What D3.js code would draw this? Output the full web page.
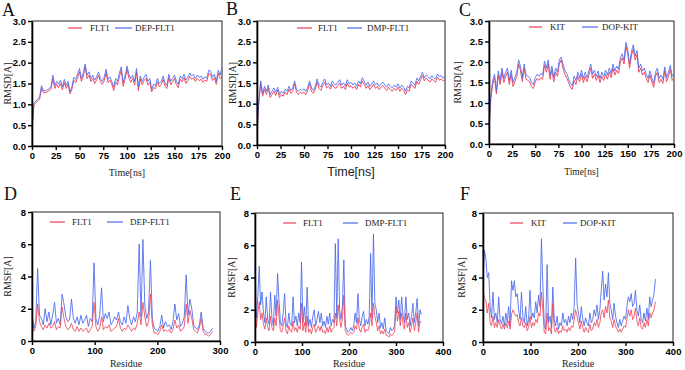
<!DOCTYPE html>
<html><head><meta charset="utf-8">
<script src="https://cdn.jsdelivr.net/npm/d3@7"></script>
<style>body{margin:0;background:#fff}svg{display:block}</style>
</head><body>
<svg id="chart" width="685" height="370"></svg>
<script>
// ---------- DATA ----------
const rmsdTimeTicks = [0,25,50,75,100,125,150,175,200];
const rmsdTicks = [0,0.5,1.0,1.5,2.0,2.5,3.0];
const rmsfTicks = [0,2,4,6,8];
const residueTicksD = [0,100,200,300];
const residueTicksEF = [0,100,200,300,400];
const rmsdStepNs = 2;     // sampling interval of the RMSD series (ns)
const rmsfStepRes = 3;    // sampling interval of the RMSF series (residues)

// A: RMSD FLT1 vs DEP-FLT1
const rmsdA_FLT1 = [0.35,0.98,1.04,1.08,1.12,1.38,1.28,1.28,1.30,1.33,
 1.36,1.62,1.38,1.48,1.40,1.50,1.35,1.52,1.38,1.48,
 1.25,1.36,1.58,1.52,1.64,1.78,1.55,1.68,1.90,1.62,
 1.70,1.55,1.62,1.50,1.58,1.70,1.55,1.48,1.57,1.76,
 1.52,1.58,1.48,1.33,1.54,1.47,1.66,1.82,1.43,1.60,
 1.84,1.63,1.53,1.62,1.46,1.78,1.33,1.60,1.47,1.57,
 1.63,1.46,1.53,1.30,1.40,1.38,1.54,1.42,1.47,1.60,
 1.44,1.38,1.64,1.47,1.54,1.62,1.47,1.40,1.60,1.54,
 1.64,1.50,1.57,1.67,1.60,1.64,1.55,1.62,1.57,1.60,
 1.53,1.58,1.55,1.74,1.72,1.57,1.64,1.48,1.74,1.62,
 1.66];
const rmsdA_DEP = [0.40,1.02,1.08,1.12,1.18,1.45,1.33,1.32,1.35,1.38,
 1.42,1.70,1.45,1.55,1.48,1.58,1.42,1.60,1.45,1.55,
 1.30,1.42,1.65,1.60,1.72,1.86,1.62,1.75,1.97,1.70,
 1.78,1.62,1.70,1.58,1.66,1.78,1.62,1.55,1.65,1.84,
 1.60,1.66,1.55,1.42,1.62,1.55,1.75,1.90,1.52,1.68,
 1.92,1.72,1.62,1.70,1.55,1.86,1.42,1.68,1.55,1.65,
 1.72,1.55,1.62,1.36,1.48,1.45,1.62,1.50,1.55,1.68,
 1.52,1.45,1.72,1.55,1.62,1.70,1.55,1.48,1.68,1.62,
 1.72,1.58,1.65,1.75,1.68,1.72,1.62,1.70,1.65,1.68,
 1.60,1.66,1.62,1.82,1.80,1.65,1.72,1.55,1.82,1.70,
 1.88];

// B: RMSD FLT1 vs DMP-FLT1
const rmsdB_FLT1 = [0.25,1.05,1.48,1.18,1.35,1.22,1.38,1.15,1.22,1.30,
 1.20,1.33,1.15,1.22,1.18,1.28,1.22,1.35,1.25,1.30,
 1.48,1.28,1.22,1.28,1.25,1.28,1.22,1.32,1.48,1.30,
 1.25,1.35,1.52,1.37,1.32,1.44,1.52,1.38,1.42,1.35,
 1.47,1.40,1.37,1.44,1.50,1.37,1.42,1.34,1.50,1.40,
 1.44,1.37,1.42,1.34,1.47,1.40,1.55,1.47,1.37,1.44,
 1.34,1.40,1.47,1.37,1.42,1.34,1.40,1.44,1.37,1.32,
 1.40,1.34,1.30,1.37,1.32,1.40,1.30,1.37,1.32,1.22,
 1.34,1.30,1.47,1.42,1.37,1.54,1.47,1.57,1.68,1.55,
 1.62,1.57,1.52,1.60,1.55,1.52,1.64,1.57,1.60,1.55,
 1.58];
const rmsdB_DMP = [0.30,1.10,1.55,1.25,1.42,1.30,1.45,1.22,1.30,1.38,
 1.28,1.40,1.22,1.30,1.25,1.35,1.30,1.42,1.32,1.38,
 1.55,1.35,1.30,1.35,1.32,1.36,1.30,1.40,1.55,1.38,
 1.32,1.42,1.60,1.45,1.40,1.52,1.60,1.45,1.50,1.42,
 1.55,1.48,1.45,1.52,1.58,1.45,1.50,1.42,1.58,1.48,
 1.52,1.45,1.50,1.42,1.55,1.48,1.63,1.55,1.45,1.52,
 1.42,1.48,1.55,1.45,1.50,1.42,1.48,1.52,1.45,1.40,
 1.48,1.42,1.38,1.45,1.40,1.48,1.38,1.45,1.40,1.30,
 1.42,1.38,1.55,1.50,1.45,1.62,1.55,1.65,1.76,1.62,
 1.70,1.65,1.60,1.68,1.62,1.60,1.72,1.65,1.68,1.62,
 1.66];

// C: RMSD KIT vs DOP-KIT
const rmsdC_KIT = [0.35,1.10,1.45,1.62,1.22,1.68,1.45,1.75,1.50,1.65,
 1.75,1.45,1.70,1.40,1.52,1.65,1.95,1.80,1.52,1.85,
 1.58,1.55,1.52,1.40,1.35,1.52,1.60,1.55,1.62,1.58,
 1.92,1.75,1.95,1.58,1.80,1.52,1.75,1.65,1.95,2.05,
 1.85,1.70,1.62,1.50,1.38,1.33,1.55,1.45,1.65,1.52,
 1.70,1.50,1.65,1.52,1.68,1.85,1.60,1.70,1.55,1.68,
 1.50,1.65,1.55,1.70,1.58,1.75,1.62,1.85,1.68,1.80,
 1.72,2.00,2.10,1.95,2.38,2.20,1.85,2.15,2.32,2.05,
 2.18,1.75,1.85,1.68,1.75,1.60,1.50,1.68,1.52,1.38,
 1.65,1.75,1.50,1.58,1.48,1.78,1.52,1.65,1.82,1.55,
 1.62];
const rmsdC_DOP = [0.40,1.20,1.55,1.70,1.30,1.78,1.55,1.85,1.60,1.75,
 1.85,1.55,1.80,1.50,1.62,1.75,2.05,1.90,1.62,1.95,
 1.68,1.65,1.62,1.50,1.45,1.62,1.70,1.65,1.72,1.68,
 2.02,1.85,2.05,1.68,1.90,1.62,1.85,1.75,2.05,2.12,
 1.95,1.80,1.72,1.60,1.48,1.42,1.65,1.55,1.75,1.62,
 1.80,1.60,1.75,1.62,1.78,1.95,1.70,1.80,1.65,1.78,
 1.60,1.75,1.65,1.80,1.68,1.85,1.72,1.95,1.78,1.90,
 1.82,2.10,2.20,2.05,2.48,2.30,1.95,2.25,2.42,2.15,
 2.28,1.85,1.95,1.78,1.85,1.70,1.60,1.78,1.62,1.48,
 1.75,1.85,1.60,1.68,1.58,1.88,1.62,1.75,1.92,1.65,
 1.72];

// D: RMSF FLT1 vs DEP-FLT1
const rmsfD_FLT1 = [1.40,0.60,0.90,2.30,1.20,0.90,0.70,1.00,0.80,1.10,
 0.80,0.90,1.20,0.70,0.90,0.80,2.10,1.40,0.90,0.70,
 0.80,1.10,0.70,0.60,0.90,0.60,0.80,0.60,0.70,0.80,
 0.50,0.70,0.90,2.40,0.90,0.60,0.80,1.50,0.70,0.90,
 0.80,1.00,0.60,0.70,0.80,0.90,1.40,0.80,0.60,0.80,
 0.70,1.00,0.80,0.60,0.80,0.70,1.10,1.80,1.00,2.40,
 1.50,0.90,1.20,2.90,1.00,0.50,0.50,0.40,0.60,1.00,
 0.60,0.70,0.60,0.70,0.50,0.70,1.30,0.80,1.00,0.60,
 0.70,0.90,2.30,1.10,1.90,1.40,0.70,0.60,0.50,0.80,
 1.40,0.60,0.40,0.40,0.30,0.40,0.60];
const rmsfD_DEP = [1.80,0.80,1.20,4.50,1.60,1.40,1.00,2.00,1.20,1.80,
 1.00,1.60,2.40,1.10,1.40,1.00,2.90,2.30,1.50,1.20,
 1.30,2.60,1.40,1.10,1.50,1.00,1.60,1.10,1.30,1.60,
 0.90,1.40,1.20,4.85,1.40,1.00,1.60,3.30,1.20,1.70,
 1.40,1.80,1.00,1.20,1.50,1.30,1.80,1.20,1.00,1.50,
 1.10,2.20,1.40,1.00,1.50,1.20,1.80,6.00,1.50,6.30,
 2.20,1.40,1.80,5.00,1.40,0.80,0.70,0.60,0.90,1.60,
 0.80,1.20,0.90,1.00,0.70,1.20,2.30,1.30,1.70,0.90,
 1.10,1.50,4.10,1.60,2.60,2.00,1.00,0.80,0.70,1.00,
 1.80,0.80,0.60,0.50,0.50,0.60,0.80];

// E: RMSF FLT1 vs DMP-FLT1
const rmsfE_FLT1 = [2.90,0.90,1.80,2.50,1.40,1.80,1.10,0.80,1.50,0.90,
 0.70,1.60,0.90,0.70,1.50,1.00,2.60,1.60,0.70,0.60,
 1.00,1.50,0.70,0.50,1.00,0.70,0.60,1.30,0.70,0.90,
 0.60,1.00,0.80,2.40,0.70,1.20,0.60,1.60,0.60,0.80,
 0.50,0.90,1.10,0.60,0.80,1.00,0.70,1.00,0.60,0.70,
 0.50,0.90,0.60,1.00,0.60,0.80,0.90,1.80,1.00,2.30,
 1.40,0.90,1.50,2.90,0.70,0.50,0.40,0.50,0.60,0.50,
 0.60,1.00,0.80,1.50,0.80,0.60,0.90,1.10,0.60,0.80,
 0.70,1.00,1.80,1.00,2.40,1.60,1.20,0.70,1.00,0.50,
 0.70,0.50,0.80,0.40,0.40,0.30,0.50,0.40,0.50,0.60,
 2.20,1.30,1.90,1.00,1.80,1.10,0.80,1.80,0.90,1.20,
 0.60,1.00,1.50,0.70,1.20,1.80,0.60,1.30,1.20];
const rmsfE_DMP = [5.00,1.50,2.80,4.70,2.30,3.10,1.80,1.20,2.80,1.40,
 1.10,3.10,1.50,1.00,2.90,1.60,4.25,2.60,1.20,1.00,
 1.80,3.00,1.20,0.90,1.80,1.10,1.00,2.80,1.20,1.60,
 1.00,1.80,1.20,4.95,1.20,2.20,1.00,3.40,1.00,1.40,
 0.90,1.60,2.00,1.00,1.40,1.90,1.20,1.80,1.00,1.30,
 0.90,1.60,1.10,1.80,1.00,1.40,1.20,6.10,1.50,6.40,
 2.00,1.40,2.20,5.10,1.00,0.80,0.60,0.70,0.90,0.70,
 1.00,1.80,1.20,3.00,1.40,1.00,1.60,1.90,1.00,1.40,
 1.10,1.60,5.50,1.50,6.70,2.40,2.00,1.20,1.80,0.90,
 1.20,0.80,1.50,0.70,0.60,0.50,0.90,0.70,0.80,1.00,
 2.80,1.80,2.60,1.40,2.80,1.60,1.20,2.80,1.40,1.80,
 1.00,1.60,2.40,1.20,1.80,2.70,1.00,2.00,1.70];

// F: RMSF KIT vs DOP-KIT
const rmsfF_KIT = [3.30,2.70,2.60,1.80,2.40,1.20,1.00,1.60,0.90,1.20,
 0.90,1.40,1.00,0.80,1.10,0.80,1.20,0.90,1.30,0.80,
 1.70,2.00,1.80,1.60,1.70,1.20,1.00,1.50,1.00,0.90,
 1.20,0.70,0.90,1.60,0.90,1.20,1.00,1.40,1.20,1.80,
 1.60,3.10,2.00,0.60,0.50,1.80,0.70,0.90,0.50,2.40,
 0.80,0.60,0.90,0.50,0.70,0.60,1.00,0.70,0.80,0.60,
 0.90,0.70,1.00,0.90,1.40,2.00,1.60,1.20,0.80,1.30,
 0.90,0.60,0.90,0.70,0.60,1.10,0.70,0.80,1.20,1.00,
 1.40,0.90,1.20,1.80,2.00,1.50,2.20,1.80,2.60,1.50,
 1.30,0.90,1.40,1.00,0.80,0.60,0.80,0.60,0.80,1.00,
 0.90,1.40,2.00,1.60,2.00,1.40,1.60,2.10,1.30,1.00,
 1.50,0.90,0.80,1.20,0.90,1.40,1.00,1.80,1.50,1.80,
 2.00,2.50];
const rmsfF_DOP = [3.80,5.70,5.20,4.00,4.30,2.20,1.50,3.10,1.40,1.80,
 1.20,2.80,1.40,1.10,1.60,1.00,1.80,1.20,2.20,1.00,
 3.80,3.20,3.80,2.80,3.00,2.00,1.40,3.10,1.50,1.20,
 2.20,1.00,1.40,3.20,1.40,1.80,1.50,2.50,1.80,2.90,
 2.20,6.40,3.50,1.00,0.80,4.80,1.20,1.60,0.90,3.40,
 1.40,1.00,1.60,0.80,1.20,1.00,1.80,1.20,1.40,1.00,
 1.60,1.20,1.80,1.40,2.20,5.20,2.40,1.80,1.20,2.20,
 1.40,1.00,1.50,1.20,1.00,1.80,1.20,1.40,2.00,1.60,
 2.30,1.40,2.00,3.20,4.40,2.60,3.60,2.80,4.30,2.40,
 2.00,1.40,2.40,1.60,1.20,0.90,1.40,1.00,1.30,1.60,
 1.40,2.20,2.80,2.50,3.00,2.20,2.40,3.20,2.00,1.60,
 2.30,1.40,1.20,1.80,1.30,2.10,1.40,2.80,2.20,2.60,
 3.00,3.90];

// ---------- DRAWING ----------
const svg = d3.select('#chart');
const RED = '#ec3e56', BLUE = '#4a69ec';
const SERIF = '"Liberation Serif","Times New Roman",serif';
const SANS = '"Liberation Sans",Arial,sans-serif';

const panels = [
 {tag:'A', l:32, r:222, t:21, b:146, xMax:200, xTicks:rmsdTimeTicks, yMax:3, yTicks:rmsdTicks, yFmt:d3.format('.1f'),
  step:rmsdStepNs, red:rmsdA_FLT1, blue:rmsdA_DEP, names:['FLT1','DEP-FLT1'], xTitle:'Time[ns]', yTitle:'RMSD[A]',
  tagX:2, tagY:16, xTitleY:176, xTitleFont:SERIF, xTitleSize:10, yTitleX:11, leg:{y:28, r0:68, r1:82, rt:90, b0:115, b1:132, bt:135}, blueOnTop:true},
 {tag:'B', l:257, r:445, t:21, b:145, xMax:200, xTicks:rmsdTimeTicks, yMax:3, yTicks:rmsdTicks, yFmt:d3.format('.1f'),
  step:rmsdStepNs, red:rmsdB_FLT1, blue:rmsdB_DMP, names:['FLT1','DMP-FLT1'], xTitle:'Time[ns]', yTitle:'RMSD[A]',
  tagX:226, tagY:15, xTitleY:176, xTitleFont:SANS, xTitleSize:12.5, yTitleX:236, leg:{y:28, r0:297, r1:312, rt:318, b0:347, b1:362, bt:367}, blueOnTop:true},
 {tag:'C', l:489, r:674, t:21, b:144, xMax:200, xTicks:rmsdTimeTicks, yMax:3, yTicks:rmsdTicks, yFmt:d3.format('.1f'),
  step:rmsdStepNs, red:rmsdC_KIT, blue:rmsdC_DOP, names:['KIT','DOP-KIT'], xTitle:'Time[ns]', yTitle:'RMSD[A]',
  tagX:459, tagY:16, xTitleY:175, xTitleFont:SERIF, xTitleSize:9.5, yTitleX:461, leg:{y:27, r0:529, r1:542, rt:550, b0:582, b1:598, bt:602}, blueOnTop:true},
 {tag:'D', l:32, r:220, t:212, b:341, xMax:300, xTicks:residueTicksD, yMax:8, yTicks:rmsfTicks, yFmt:d3.format('d'),
  step:rmsfStepRes, red:rmsfD_FLT1, blue:rmsfD_DEP, names:['FLT1','DEP-FLT1'], xTitle:'Residue', yTitle:'RMSF[A]',
  tagX:4, tagY:200, xTitleY:367, xTitleFont:SERIF, xTitleSize:10, yTitleX:11, leg:{y:222, r0:50, r1:65, rt:72, b0:107, b1:123, bt:130}, blueOnTop:false},
 {tag:'E', l:255, r:443, t:213, b:342, xMax:400, xTicks:residueTicksEF, yMax:8, yTicks:rmsfTicks, yFmt:d3.format('d'),
  step:rmsfStepRes, red:rmsfE_FLT1, blue:rmsfE_DMP, names:['FLT1','DMP-FLT1'], xTitle:'Residue', yTitle:'RMSF[A]',
  tagX:230, tagY:200, xTitleY:367, xTitleFont:SERIF, xTitleSize:10, yTitleX:235, leg:{y:223, r0:283, r1:296, rt:303, b0:343, b1:358, bt:365}, blueOnTop:false},
 {tag:'F', l:483, r:673, t:213, b:342, xMax:400, xTicks:residueTicksEF, yMax:8, yTicks:rmsfTicks, yFmt:d3.format('d'),
  step:rmsfStepRes, red:rmsfF_KIT, blue:rmsfF_DOP, names:['KIT','DOP-KIT'], xTitle:'Residue', yTitle:'RMSF[A]',
  tagX:460, tagY:200, xTitleY:367, xTitleFont:SERIF, xTitleSize:10, yTitleX:465, leg:{y:223, r0:510, r1:523, rt:531, b0:563, b1:577, bt:580}, blueOnTop:false}
];

panels.forEach(p => {
  const x = d3.scaleLinear().domain([0, p.xMax]).range([p.l, p.r]);
  const y = d3.scaleLinear().domain([0, p.yMax]).range([p.b, p.t]);
  const g = svg.append('g');

  // frame
  g.append('rect').attr('x', p.l).attr('y', p.t).attr('width', p.r - p.l).attr('height', p.b - p.t)
    .attr('fill', 'none').attr('stroke', '#222').attr('stroke-width', 1);

  const line = d3.line().x((d, i) => x(i * p.step)).y(d => y(d));
  const drawSeries = (data, color, op) => g.append('path').datum(data).attr('d', line)
      .attr('fill', 'none').attr('stroke', color).attr('stroke-width', 1).attr('stroke-opacity', op)
      .attr('stroke-linejoin', 'round');
  if (p.blueOnTop) { drawSeries(p.red, RED, 0.9); drawSeries(p.blue, BLUE, 0.85); }
  else { drawSeries(p.blue, BLUE, 0.85); drawSeries(p.red, RED, 0.8); }

  // axes
  const xa = g.append('g').attr('transform', `translate(0,${p.b})`)
    .call(d3.axisBottom(x).tickValues(p.xTicks).tickSize(4).tickSizeOuter(0).tickPadding(2));
  const ya = g.append('g').attr('transform', `translate(${p.l},0)`)
    .call(d3.axisLeft(y).tickValues(p.yTicks).tickFormat(p.yFmt).tickSize(4).tickSizeOuter(0).tickPadding(2));
  [xa, ya].forEach(a => {
    a.select('.domain').attr('stroke', '#000').attr('stroke-width', 1.6);
    a.selectAll('.tick line').attr('stroke', '#000').attr('stroke-width', 1.4);
    a.selectAll('.tick text').attr('font-family', SANS).attr('font-weight', 'bold')
      .attr('font-size', 9.5).attr('fill', '#000');
  });

  // titles
  g.append('text').attr('x', p.tagX).attr('y', p.tagY).text(p.tag)
    .attr('font-family', SERIF).attr('font-size', 18).attr('fill', '#111');
  g.append('text').attr('x', (p.l + p.r) / 2).attr('y', p.xTitleY).attr('text-anchor', 'middle')
    .attr('font-family', p.xTitleFont).attr('font-size', p.xTitleSize).attr('fill', '#222').text(p.xTitle);
  g.append('text').attr('transform', `translate(${p.yTitleX},${(p.t + p.b) / 2}) rotate(-90)`)
    .attr('text-anchor', 'middle').attr('font-family', SERIF).attr('font-size', 10).attr('fill', '#222').text(p.yTitle);

  // legend
  const L = p.leg;
  g.append('line').attr('x1', L.r0).attr('x2', L.r1).attr('y1', L.y).attr('y2', L.y).attr('stroke', RED).attr('stroke-width', 1.2);
  g.append('line').attr('x1', L.b0).attr('x2', L.b1).attr('y1', L.y).attr('y2', L.y).attr('stroke', BLUE).attr('stroke-width', 1.2);
  g.append('text').attr('x', L.rt).attr('y', L.y + 3).text(p.names[0])
    .attr('font-family', SERIF).attr('font-size', 9).attr('fill', '#222');
  g.append('text').attr('x', L.bt).attr('y', L.y + 3).text(p.names[1])
    .attr('font-family', SERIF).attr('font-size', 9).attr('fill', '#222');
});
</script>
</body></html>
